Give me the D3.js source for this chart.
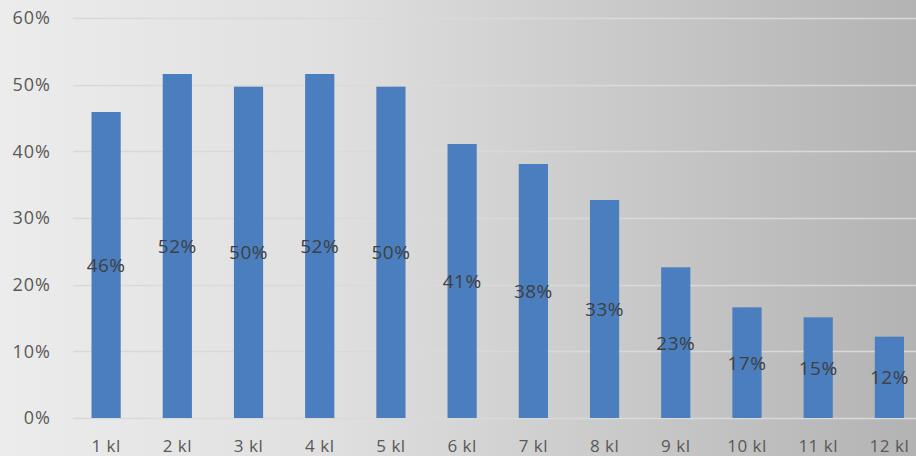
<!DOCTYPE html>
<html><head><meta charset="utf-8">
<script src="https://cdn.jsdelivr.net/npm/d3@7"></script>
<style>html,body{margin:0;padding:0;overflow:hidden;}svg{display:block;}</style>
</head><body>
<script>
const categories = ["1 kl","2 kl","3 kl","4 kl","5 kl","6 kl","7 kl","8 kl","9 kl","10 kl","11 kl","12 kl"];
const values = [0.459,0.516,0.497,0.516,0.497,0.411,0.381,0.327,0.226,0.166,0.151,0.122];
const yTicks = [0,0.1,0.2,0.3,0.4,0.5,0.6];

const W = 916, H = 456;
const svg = d3.select("body").append("svg").attr("width", W).attr("height", H);
const defs = svg.append("defs");
const grad = defs.append("linearGradient").attr("id","bg").attr("x1","0").attr("x2","1").attr("y1","0").attr("y2","0");
grad.append("stop").attr("offset","0").attr("stop-color","#ececec");
grad.append("stop").attr("offset","0.35").attr("stop-color","#e0e0e0");
grad.append("stop").attr("offset","1").attr("stop-color","#b3b3b3");
svg.append("rect").attr("width",W).attr("height",H).attr("fill","url(#bg)");

const x = d3.scaleBand().domain(categories).range([70.5, 925]).paddingInner(0.59).paddingOuter(0.295);
const y = d3.scaleLinear().domain([0,0.6]).range([418,18]);

const font = "'Open Sans', 'Noto Sans', sans-serif";

// gridlines
svg.append("g").selectAll("line").data(yTicks).join("line")
  .attr("x1",73).attr("x2",W).attr("y1",d=>Math.round(y(d))+0.5).attr("y2",d=>Math.round(y(d))+0.5)
  .attr("stroke","#d9d9d9").attr("stroke-width",1.5);

// y axis labels
const yAxis = d3.axisLeft(y).tickValues(yTicks).tickFormat(d3.format(".0%")).tickSize(0).tickPadding(0);
const gy = svg.append("g").attr("transform","translate(51,0)").call(yAxis);
gy.select(".domain").remove();
gy.selectAll("text").attr("font-family",font).attr("font-size",18).attr("letter-spacing","1px").attr("fill","#595959");

// bars
svg.append("g").selectAll("rect").data(values).join("rect")
  .attr("x",(d,i)=>x(categories[i])).attr("width",x.bandwidth())
  .attr("y",d=>y(d)).attr("height",d=>y(0)-y(d)).attr("fill","#4a7ebf");

// value labels
svg.append("g").selectAll("text").data(values).join("text")
  .attr("x",(d,i)=>x(categories[i])+x.bandwidth()/2)
  .attr("y",d=>(y(d)+y(0))/2+7)
  .attr("text-anchor","middle").attr("font-family",font).attr("font-size",19).attr("letter-spacing","0.5px")
  .attr("fill","#404040").text(d=>d3.format(".0%")(d));

// x axis labels
const xAxis = d3.axisBottom(x).tickSize(0).tickPadding(0);
const gx = svg.append("g").attr("transform","translate(0,452)").call(xAxis);
gx.select(".domain").remove();
gx.selectAll("text").attr("font-family",font).attr("font-size",17).attr("letter-spacing","0.5px").attr("fill","#595959").attr("dy","0");
</script>
</body></html>
